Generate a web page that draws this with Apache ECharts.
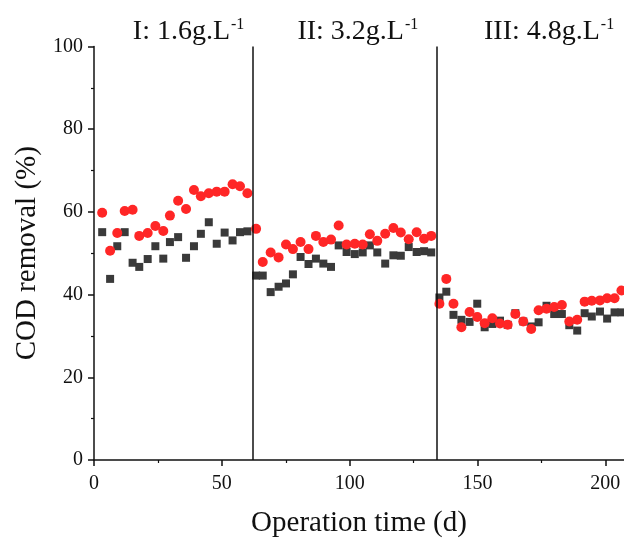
<!DOCTYPE html>
<html>
<head>
<meta charset="utf-8">
<title>COD removal</title>
<script src="https://cdn.jsdelivr.net/npm/echarts@6/dist/echarts.min.js"></script>
<style>
  html, body { margin: 0; padding: 0; background: #ffffff; }
  #chart { width: 624px; height: 543px; }
</style>
</head>
<body>
<div id="chart"></div>
<script>
// Sampling days (operation time, d)
const days = [
  3.2, 6.3, 9.1, 12.0, 15.1, 17.7, 21.0, 24.0, 27.1, 29.7, 32.9, 36.0, 39.1, 41.8, 44.9, 48.0, 51.1, 54.2, 57.1, 60.0,
  63.4, 66.0, 69.1, 72.2, 75.1, 77.8, 80.8, 83.9, 86.8, 89.7, 92.7, 95.7, 98.8, 102.0, 105.1, 107.9, 110.8, 113.9, 117.1, 120.0, 123.1, 126.2, 129.1, 131.9,
  135.1, 137.8, 140.6, 143.7, 146.9, 149.9, 152.8, 155.8, 158.8, 161.8, 164.8, 167.9, 171.0, 173.9, 177.0, 180.0, 183.0, 185.9, 189.0, 191.9, 194.7, 197.9, 200.7, 203.6, 206.3
];

// COD removal (%) – red circles
const codRed = [
  59.8, 50.6, 54.9, 60.2, 60.5, 54.2, 54.9, 56.6, 55.4, 59.1, 62.7, 60.7, 65.3, 63.8, 64.5, 64.9, 64.9, 66.7, 66.2, 64.5,
  55.9, 47.9, 50.2, 49.0, 52.1, 51.0, 52.7, 51.0, 54.2, 52.7, 53.3, 56.7, 52.1, 52.3, 52.1, 54.6, 53.0, 54.7, 56.1, 55.0, 53.4, 55.1, 53.5, 54.2,
  37.8, 43.8, 37.8, 32.1, 35.8, 34.6, 33.1, 34.3, 33.0, 32.7, 35.3, 33.5, 31.7, 36.2, 36.6, 37.0, 37.5, 33.5, 33.9, 38.3, 38.5, 38.6, 39.1, 39.1, 41.0
];

// COD removal (%) – dark squares
const codDark = [
  55.1, 43.8, 51.7, 55.1, 47.7, 46.7, 48.6, 51.7, 48.7, 52.7, 53.9, 48.9, 51.7, 54.7, 57.5, 52.3, 55.0, 53.1, 55.1, 55.3,
  44.6, 44.6, 40.6, 41.9, 42.7, 44.9, 49.1, 47.4, 48.7, 47.5, 46.7, 51.9, 50.3, 49.8, 50.2, 51.9, 50.2, 47.5, 49.5, 49.4, 51.5, 50.3, 50.5, 50.2,
  39.3, 40.7, 35.1, 33.9, 33.4, 37.8, 32.1, 32.9, 33.7, 32.7, 35.5, 33.5, 32.3, 33.3, 37.3, 35.3, 35.3, 32.6, 31.3, 35.5, 34.7, 35.9, 34.2, 35.7, 35.7
];

// Stage boundaries (d) and stage captions
const stageBounds = [62, 134];
const stageNames = ['I: 1.6g.L', 'II: 3.2g.L', 'III: 4.8g.L'];
const stageCenters = [37, 103.2, 178];

const xTicks = [0, 50, 100, 150, 200];
const yTicks = [0, 20, 40, 60, 80, 100];

const FONT = '"Liberation Serif", "Times New Roman", serif';
const INK = '#111111';

const chart = echarts.init(document.getElementById('chart'), null, { renderer: 'canvas' });

const xMax = 207.3;

const option = {
  backgroundColor: '#ffffff',
  animation: false,
  grid: { left: 94, right: 0, top: 46.5, bottom: 80 },
  xAxis: {
    type: 'value',
    min: 0,
    max: xMax,
    interval: 50,
    name: 'Operation time (d)',
    nameLocation: 'middle',
    nameGap: 49,
    nameTextStyle: { fontFamily: FONT, fontSize: 29, color: INK },
    axisLine: { show: true, onZero: false, lineStyle: { color: INK, width: 1.5 } },
    axisTick: { show: true, inside: false, length: 6, lineStyle: { color: INK, width: 1.5 },
      customValues: xTicks },
    minorTick: { show: true, splitNumber: 2, length: 3, lineStyle: { color: INK, width: 1.2 } },
    axisLabel: { fontFamily: FONT, fontSize: 20, color: INK, margin: 14,
      customValues: xTicks },
    splitLine: { show: false },
    minorSplitLine: { show: false }
  },
  yAxis: {
    type: 'value',
    min: 0,
    max: 100,
    interval: 20,
    name: 'COD removal (%)',
    nameLocation: 'middle',
    nameGap: 52,
    nameTextStyle: { fontFamily: FONT, fontSize: 29, color: INK },
    axisLine: { show: true, onZero: false, lineStyle: { color: INK, width: 1.5 } },
    axisTick: { show: true, inside: false, length: 6, lineStyle: { color: INK, width: 1.5 } },
    minorTick: { show: true, splitNumber: 2, length: 3, lineStyle: { color: INK, width: 1.2 } },
    axisLabel: { fontFamily: FONT, fontSize: 20, color: INK, margin: 11,
      customValues: yTicks },
    splitLine: { show: false },
    minorSplitLine: { show: false }
  },
  series: [
    {
      name: 'dark',
      type: 'scatter',
      symbol: 'rect',
      symbolSize: 8,
      itemStyle: { color: '#3a3a3a', opacity: 1 },
      data: days.map((d, i) => [d, codDark[i]]),
      markLine: {
        silent: true,
        symbol: ['none', 'none'],
        label: { show: false },
        lineStyle: { color: INK, width: 1.5, type: 'solid' },
        data: stageBounds.map(b => ({ xAxis: b }))
      },
      z: 2
    },
    {
      name: 'red',
      type: 'scatter',
      symbol: 'circle',
      symbolSize: 10,
      itemStyle: { color: '#ff2626', opacity: 1 },
      data: days.map((d, i) => [d, codRed[i]]),
      z: 3
    }
  ]
};

chart.setOption(option);

// Stage captions with superscript units, positioned through the x scale
function drawCaptions() {
  const elements = stageNames.map((name, i) => {
    const px = chart.convertToPixel({ gridIndex: 0 }, [stageCenters[i], 100]);
    return {
      type: 'text',
      x: px[0],
      y: 46,
      style: {
        text: '{m|' + name + '}{s|-1}',
        align: 'center',
        verticalAlign: 'bottom',
        rich: {
          m: { fontFamily: FONT, fontSize: 28, fill: INK, verticalAlign: 'bottom' },
          s: { fontFamily: FONT, fontSize: 16, fill: INK, verticalAlign: 'top', padding: [0, 0, 13, 1] }
        }
      }
    };
  });
  chart.setOption({ graphic: elements });
}
drawCaptions();
</script>
</body>
</html>
